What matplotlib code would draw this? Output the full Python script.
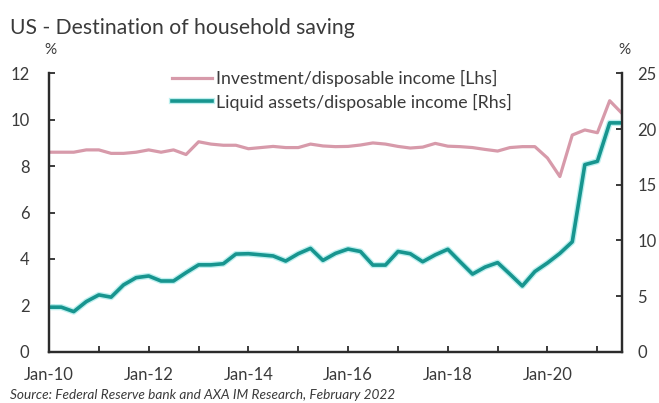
import numpy as np
import pandas as pd
import matplotlib
matplotlib.use("Agg")
from matplotlib import pyplot as plt
import matplotlib.dates as mdates
import matplotlib.patheffects as pe

plt.rcParams['font.family'] = ['Lato', 'DejaVu Sans']

# Quarterly series, 2010Q1 - 2021Q3
quarters = pd.date_range("2010-01-01", periods=47, freq="QS")

# Investment / disposable income (%), left axis
investment = [8.6, 8.6, 8.6, 8.7, 8.7, 8.55, 8.55, 8.6, 8.7, 8.6,
              8.7, 8.5, 9.05, 8.95, 8.9, 8.9, 8.75, 8.8, 8.85, 8.8,
              8.8, 8.95, 8.87, 8.84, 8.85, 8.91, 9.0, 8.95, 8.85, 8.78,
              8.82, 8.98, 8.86, 8.84, 8.8, 8.72, 8.65, 8.8, 8.84, 8.84,
              8.35, 7.55, 9.34, 9.56, 9.44, 10.82, 10.27]

# Liquid assets / disposable income (%), right axis
liquid = [4.0, 4.0, 3.6, 4.5, 5.1, 4.9, 6.0, 6.65, 6.8, 6.35,
          6.35, 7.1, 7.8, 7.8, 7.9, 8.77, 8.8, 8.7, 8.6, 8.14,
          8.8, 9.28, 8.2, 8.83, 9.22, 9.0, 7.78, 7.78, 9.0, 8.8,
          8.08, 8.7, 9.2, 8.08, 6.97, 7.6, 8.0, 6.97, 5.9, 7.2,
          7.97, 8.83, 9.87, 16.8, 17.1, 20.55, 20.55]

left_ticks = [0, 2, 4, 6, 8, 10, 12]
right_ticks = [0, 5, 10, 15, 20, 25]

pink = "#d79aaa"
teal = "#17958f"
axis_col = "#2b2b2b"
text_col = "#3a3a3a"

fig = plt.figure(figsize=(6.59, 4.03), dpi=100)
ax = fig.add_axes([0.0744, 0.1273, 0.8696, 0.6907])
ax2 = ax.twinx()

ax.plot(quarters, investment, color=pink, lw=2.3, solid_joinstyle="round",
        label="Investment/disposable income [Lhs]")
ax2.plot(quarters, liquid, color=teal, lw=2.6, solid_joinstyle="round",
         path_effects=[pe.Stroke(linewidth=4.5, foreground="#bdf0ef"), pe.Normal()],
         label="Liquid assets/disposable income [Rhs]")

ax.set_ylim(0, 12)
ax2.set_ylim(0, 25)
ax.set_yticks(left_ticks)
ax2.set_yticks(right_ticks)
ax.set_xlim(quarters[0], quarters[-1])

ax.xaxis.set_major_locator(mdates.YearLocator(2))
ax.xaxis.set_minor_locator(mdates.YearLocator(1))
ax.xaxis.set_major_formatter(mdates.DateFormatter("%b-%y"))

for a in (ax, ax2):
    a.spines["top"].set_visible(False)
    for s in ("left", "right", "bottom"):
        a.spines[s].set_color(axis_col)
        a.spines[s].set_linewidth(1.6)
    a.tick_params(which="both", direction="in", length=4, width=1.3,
                  color=axis_col, labelcolor=text_col, labelsize=12)
ax.tick_params(axis="y", pad=14)
ax2.tick_params(axis="y", pad=11)
ax.tick_params(axis="x", pad=11)

# legend lines, drawn across both axes
h1, l1 = ax.get_legend_handles_labels()
h2, l2 = ax2.get_legend_handles_labels()
leg = fig.legend(h1 + h2, l1 + l2, loc="upper left",
                 bbox_to_anchor=(0.236, 0.865), frameon=False,
                 fontsize=12.8, handlelength=2.3, handletextpad=0.2,
                 labelspacing=0.35, labelcolor=text_col)

fig.text(0.015, 0.93, "US - Destination of household saving",
         fontsize=15.2, color=text_col, va="center", ha="left")
fig.text(0.076, 0.875, "%", fontsize=11, color=text_col, ha="center", va="center")
fig.text(0.948, 0.875, "%", fontsize=11, color=text_col, ha="center", va="center")
fig.text(0.015, 0.02, "Source: Federal Reserve bank and AXA IM Research, February 2022",
         fontsize=9.8, style="italic", color=text_col, ha="left", va="center")

fig.savefig("out.png", dpi=100)
